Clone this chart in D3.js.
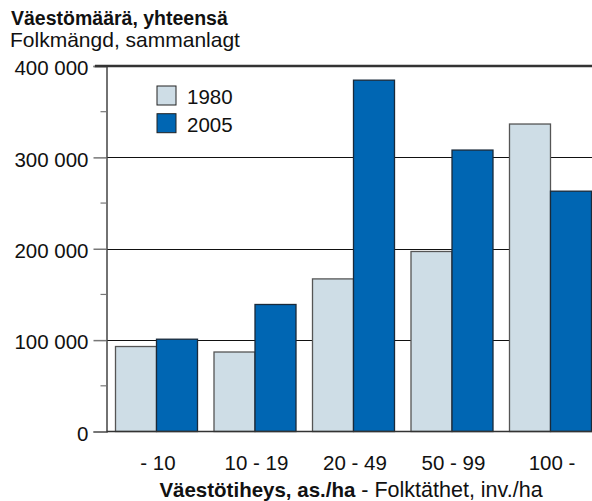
<!DOCTYPE html>
<html><head><meta charset="utf-8">
<script src="https://cdn.jsdelivr.net/npm/d3@7"></script>
<style>body{margin:0;background:#fff}svg{display:block;font-family:"Liberation Sans",Arial,sans-serif}</style>
</head><body>
<svg id="c" width="592" height="501"></svg>
<script>
const categories = ["- 10", "10 - 19", "20 - 49", "50 - 99", "100 -"];
const series = ["1980", "2005"];
const values1980 = [93000, 87000, 167000, 197000, 336500];
const values2005 = [101000, 139000, 384500, 308000, 263000];
const yTicks = [0, 100000, 200000, 300000, 400000];
const yMinorTicks = [50000, 150000, 250000, 350000];
const colors = ["#cedde6", "#0066b3"];

const FS = 20.5;
const svg = d3.select("#c");
const x0 = 106.5, yZero = 431.5, yTop = 66;
const y = d3.scaleLinear().domain([0, 400000]).range([yZero, yTop]);
const x = d3.scaleBand().domain(categories).range([106, 600]).paddingInner(0.1675).paddingOuter(0.0914);
const xs = d3.scaleBand().domain(series).range([0, x.bandwidth()]);
const fmt = v => d3.format(",")(v).replace(/,/g, " ");

// gridlines
svg.append("g").selectAll("line").data(yTicks.filter(t => t > 0 && t < 400000)).join("line")
  .attr("x1", x0).attr("x2", 592).attr("y1", d => Math.round(y(d)) + 0.5).attr("y2", d => Math.round(y(d)) + 0.5)
  .attr("stroke", "#111").attr("stroke-width", 1);

// bars
const data = categories.map((c, i) => ({c, v: [values1980[i], values2005[i]]}));
svg.append("g").selectAll("g").data(data).join("g")
  .attr("transform", d => `translate(${x(d.c)},0)`)
  .selectAll("rect").data(d => d.v.map((v, j) => ({s: series[j], v, j}))).join("rect")
  .attr("x", d => xs(d.s) + 0.5).attr("width", xs.bandwidth())
  .attr("y", d => y(d.v)).attr("height", d => yZero - y(d.v))
  .attr("fill", d => colors[d.j]).attr("stroke", d => d.j ? "#1a2a3a" : "#555").attr("stroke-width", 1.3);

// axis
const axis = d3.axisLeft(y).tickValues(yTicks).tickSize(13).tickFormat(fmt).tickPadding(5);
const ag = svg.append("g").attr("transform", `translate(${x0},0)`).call(axis);
ag.select(".domain").attr("stroke", "#444").attr("stroke-width", 1.5);
ag.selectAll(".tick line").attr("stroke", "#777").attr("stroke-width", 1.5);
ag.selectAll(".tick text").attr("font-size", FS).attr("fill", "#111").attr("font-family", "Liberation Sans, Arial, sans-serif").attr("dy", "0.42em");
svg.append("g").selectAll("line").data(yMinorTicks).join("line")
  .attr("x1", x0 - 6).attr("x2", x0).attr("y1", d => y(d)).attr("y2", d => y(d))
  .attr("stroke", "#777").attr("stroke-width", 1.2);

// top line and baseline
svg.append("line").attr("x1", 95).attr("x2", 592).attr("y1", y(400000)).attr("y2", y(400000))
  .attr("stroke", "#333").attr("stroke-width", 2.5);
svg.append("line").attr("x1", x0).attr("x2", 592).attr("y1", yZero).attr("y2", yZero)
  .attr("stroke", "#333").attr("stroke-width", 1.5);

// x labels
svg.append("g").selectAll("text").data(categories).join("text")
  .attr("x", d => x(d) + x.bandwidth() / 2 + 2).attr("y", 470).attr("text-anchor", "middle")
  .attr("font-size", FS).attr("fill", "#111").text(d => d);

const xt = svg.append("text").attr("x", 351).attr("y", 497).attr("text-anchor", "middle").attr("fill", "#111");
xt.append("tspan").attr("font-weight", "bold").attr("font-size", 20.5).text("Väestötiheys, as./ha");
xt.append("tspan").attr("font-size", 21.5).text(" - Folktäthet, inv./ha");

// titles
svg.append("text").attr("x", 11).attr("y", 25).attr("font-size", 19.5).attr("font-weight", "bold").attr("fill", "#111").text("Väestömäärä, yhteensä");
svg.append("text").attr("x", 10).attr("y", 47).attr("font-size", 21).attr("fill", "#111").text("Folkmängd, sammanlagt");

// legend
const lg = svg.append("g").selectAll("g").data(series).join("g")
  .attr("transform", (d, i) => `translate(157,${86 + i * 27.7})`);
lg.append("rect").attr("width", 19).attr("height", 19).attr("fill", (d, i) => colors[i]).attr("stroke", "#222").attr("stroke-width", 1);
lg.append("text").attr("x", 30).attr("y", 18).attr("font-size", FS).attr("fill", "#111").text(d => d);
</script>
</body></html>
